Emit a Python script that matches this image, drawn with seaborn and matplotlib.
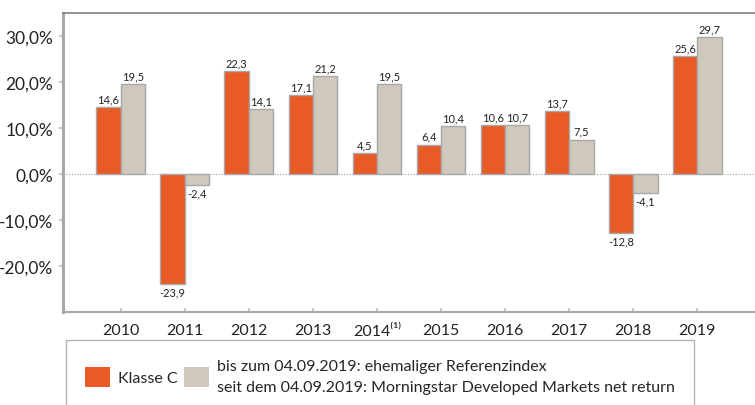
import numpy as np
import pandas as pd
import seaborn as sns
import matplotlib.pyplot as plt
from matplotlib.patches import Patch

# data
years = ['2010', '2011', '2012', '2013', '2014⁽¹⁾', '2015', '2016', '2017', '2018', '2019']
klasse_c = [14.6, -23.9, 22.3, 17.1, 4.5, 6.4, 10.6, 13.7, -12.8, 25.6]
index_ret = [19.5, -2.4, 14.1, 21.2, 19.5, 10.4, 10.7, 7.5, -4.1, 29.7]
series_names = ['Klasse C',
                'bis zum 04.09.2019: ehemaliger Referenzindex\n'
                'seit dem 04.09.2019: Morningstar Developed Markets net return']
y_ticks = [-20, -10, 0, 10, 20, 30]

colors = ['#E85A26', '#CFC8BC']

df = pd.DataFrame({
    'Jahr': years * 2,
    'Rendite': klasse_c + index_ret,
    'Serie': [series_names[0]] * len(years) + [series_names[1]] * len(years),
})

sns.set_theme(style='white')
plt.rcParams['font.family'] = ['Lato', 'DejaVu Sans']

fig = plt.figure(figsize=(7.55, 4.06), dpi=100)
ax = fig.add_axes([63 / 755, 1 - 313 / 406, 1 - 63 / 755, (313 - 14) / 406])

sns.barplot(data=df, x='Jahr', y='Rendite', hue='Serie', palette=colors,
            width=0.76, edgecolor='#A8A8A8', linewidth=1.0, ax=ax,
            legend=False, saturation=1)

for cont in ax.containers:
    ax.bar_label(cont, labels=[f'{v:.1f}'.replace('.', ',') for v in cont.datavalues],
                 fontsize=8, padding=2, color='#222222')

ax.axhline(0, color='#A0A0A0', linestyle=(0, (1, 1.5)), linewidth=0.8, zorder=0)

ax.set_ylim(-30, 35)
ax.set_xlim(-0.9, 9.9)
ax.set_yticks(y_ticks)
ax.set_yticklabels([f'{t:.1f}'.replace('.', ',') + '%' for t in y_ticks], fontsize=12.5, color='#222222')
ax.tick_params(axis='x', labelsize=11.5, labelcolor='#222222', direction='in', length=3,
               color='#C0C0C0', bottom=True, pad=8)
ax.tick_params(axis='y', left=True, length=3, color='#C0C0C0', pad=4)
ax.set_xlabel('')
ax.set_ylabel('')

ax.spines['left'].set_color('#A8A8A8')
ax.spines['left'].set_linewidth(2.2)
ax.spines['bottom'].set_color('#A8A8A8')
ax.spines['bottom'].set_linewidth(1.6)
ax.spines['top'].set_color('#808080')
ax.spines['top'].set_linewidth(1.2)
ax.spines['right'].set_visible(False)

handles = [Patch(facecolor=colors[0], edgecolor='none'),
           Patch(facecolor=colors[1], edgecolor='none')]
leg = fig.legend(handles, series_names, loc='upper left', ncol=2,
                 bbox_to_anchor=(66 / 755, 1 - 341 / 406), fontsize=11.5,
                 frameon=True, fancybox=False, edgecolor='#A0A0A0',
                 handlelength=1.55, handleheight=1.55, handletextpad=0.5,
                 columnspacing=0.4, borderpad=1.2, borderaxespad=0)
leg.get_frame().set_linewidth(1.0)
for t in leg.get_texts():
    t.set_linespacing(1.65)

fig.savefig('out.png', dpi=100)
